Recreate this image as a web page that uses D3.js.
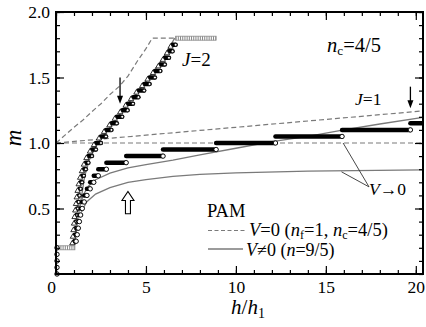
<!DOCTYPE html>
<html>
<head>
<meta charset="utf-8">
<script src="https://cdn.jsdelivr.net/npm/d3@7"></script>
<style>
body { margin: 0; background: #fff; }
svg text { font-family: 'Liberation Serif', 'Times New Roman', serif; fill: #000; }
</style>
</head>
<body>
<div id="chart"></div>
<script>
// values
var zeroFieldM = [0, 0.05, 0.10, 0.15, 0.20]

var j1StepM = [0.25, 0.30, 0.35, 0.40, 0.45, 0.50, 0.55, 0.60, 0.65, 0.70,
	0.75, 0.80, 0.85, 0.90, 0.95, 1.00, 1.05, 1.10, 1.15]
var j1StepH = [1.05, 1.12, 1.18, 1.24, 1.30, 1.37, 1.46, 1.57, 1.72, 1.90,
	2.10, 2.35, 2.80, 3.90, 5.95, 8.90, 12.20, 15.90, 19.70, 20.60]

var j2StepM = [0.25, 0.30, 0.35, 0.40, 0.45, 0.50, 0.55, 0.60, 0.65, 0.70,
	0.75, 0.80, 0.85, 0.90, 0.95, 1.00, 1.05, 1.10, 1.15, 1.20,
	1.25, 1.30, 1.35, 1.40, 1.45, 1.50, 1.55, 1.60, 1.65, 1.70, 1.75]
var j2StepH = [1.02, 1.05, 1.08, 1.11, 1.14, 1.18, 1.22, 1.26, 1.31, 1.37,
	1.45, 1.55, 1.66, 1.80, 2.00, 2.22, 2.50, 2.78, 3.08, 3.38,
	3.68, 3.98, 4.28, 4.58, 4.90, 5.20, 5.50, 5.80, 6.05, 6.28, 6.48, 6.65]

var plateauM = [0.20, 1.80]
var plateauH0 = [0, 6.65]
var plateauH1 = [1.05, 8.90]

// PAM, V=0 (dashed)
var v0J2 = [[0, 1.0], [0.5, 1.06], [1.0, 1.12], [1.5, 1.175], [2.0, 1.24], [2.5, 1.30],
	[3.0, 1.37], [3.5, 1.43], [4.0, 1.51], [4.5, 1.62], [5.0, 1.72], [5.35, 1.80], [6.6, 1.80]]
var v0J1 = [[0, 1.0], [5, 1.06], [10, 1.12], [15, 1.18], [20.4, 1.245]]
var v0Flat = [[0, 1.0], [20.4, 1.0]]

// PAM, V!=0 (solid)
var vJ2 = [[1.05, 0.22], [1.15, 0.35], [1.3, 0.5], [1.45, 0.62], [1.6, 0.75], [1.85, 0.87],
	[2.2, 0.97], [2.6, 1.05], [3.0, 1.12], [3.5, 1.21], [4.0, 1.30], [4.5, 1.38],
	[5.0, 1.47], [5.5, 1.56], [6.0, 1.66], [6.3, 1.73], [6.6, 1.80]]
var vJ1 = [[1.35, 0.52], [1.5, 0.6], [1.8, 0.67], [2.2, 0.72], [3.0, 0.77], [4.0, 0.81],
	[5.0, 0.835], [6.5, 0.87], [8.0, 0.91], [10.0, 0.96], [12.0, 1.01], [14.0, 1.05],
	[16.0, 1.10], [18.0, 1.145], [20.4, 1.195]]
var vLow = [[1.4, 0.47], [1.7, 0.55], [2.2, 0.61], [3.0, 0.66], [4.0, 0.70], [5.0, 0.72],
	[6.5, 0.745], [8.0, 0.76], [10.0, 0.772], [14.0, 0.785], [20.4, 0.795]]

var xMajor = [0, 5, 10, 15, 20],
	xMinor = d3.range(0, 21, 1),
	yMajor = [0.5, 1.0, 1.5, 2.0],
	yMinor = d3.range(0, 2.01, 0.1)

var W = 426, H = 327,
	pLeft = 56, pRight = 423, pTop = 12, pBottom = 274

var x = d3.scaleLinear().domain([0, 20.4]).range([pLeft, pRight]),
	y = d3.scaleLinear().domain([0, 2]).range([pBottom, pTop])

var svg = d3.select('#chart').append('svg')
	.attr('width', W)
	.attr('height', H)
	.attr('font-family', "'Liberation Serif', serif")

var defs = svg.append('defs')
defs.append('clipPath').attr('id', 'plot')
	.append('rect').attr('x', pLeft).attr('y', pTop).attr('width', pRight - pLeft).attr('height', pBottom - pTop)

var line = d3.line().x(function(d) { return x(d[0]) }).y(function(d) { return y(d[1]) })

var curves = svg.append('g').attr('clip-path', 'url(#plot)')
var grey = '#7a7a7a'

;[v0J2, v0J1, v0Flat].forEach(function(s) {
	curves.append('path').attr('d', line(s))
		.attr('fill', 'none').attr('stroke', grey).attr('stroke-width', 1.2)
		.attr('stroke-dasharray', '5,3')
})
;[vJ2, vJ1, vLow].forEach(function(s) {
	curves.append('path').attr('d', line(s))
		.attr('fill', 'none').attr('stroke', grey).attr('stroke-width', 1.3)
})

// saturated / zero-field plateaus, drawn as dense marker bands
var marks = svg.append('g').attr('clip-path', 'url(#plot)')
plateauM.forEach(function(m, i) {
	var g = marks.append('g')
	g.append('rect')
		.attr('x', x(plateauH0[i])).attr('y', y(m) - 2)
		.attr('width', x(plateauH1[i]) - x(plateauH0[i])).attr('height', 4)
		.attr('fill', '#fff').attr('stroke', '#888').attr('stroke-width', 0.8)
	g.append('line')
		.attr('x1', x(plateauH0[i])).attr('x2', x(plateauH1[i]))
		.attr('y1', y(m)).attr('y2', y(m))
		.attr('stroke', '#888').attr('stroke-width', 4).attr('stroke-dasharray', '1,1.2')
})

function staircase(stepM, stepH, tri, r) {
	var g = marks.append('g')
	stepM.forEach(function(m, i) {
		g.append('line')
			.attr('x1', x(stepH[i])).attr('x2', x(stepH[i + 1]))
			.attr('y1', y(m)).attr('y2', y(m))
			.attr('stroke', '#000').attr('stroke-width', 4.5).attr('stroke-linecap', 'round')
	})
	if (tri) {
		g.selectAll('path.tri').data(stepM).enter().append('path')
			.attr('class', 'tri')
			.attr('d', d3.symbol(d3.symbolTriangle, 12))
			.attr('transform', function(m, i) { return 'translate(' + (x(stepH[i]) - 2) + ',' + (y(m) + 2) + ')' })
			.attr('fill', '#fff').attr('stroke', '#000').attr('stroke-width', 0.8)
	}
	g.selectAll('circle').data(stepM).enter().append('circle')
		.attr('cx', function(m, i) { return x(stepH[i + 1]) })
		.attr('cy', function(m) { return y(m) })
		.attr('r', r)
		.attr('fill', '#fff').attr('stroke', '#000').attr('stroke-width', 0.9)
}
staircase(j2StepM, j2StepH, true, 1.5)
staircase(j1StepM, j1StepH, false, 2.2)

svg.append('g').selectAll('circle').data(zeroFieldM).enter().append('circle')
	.attr('cx', x(0) + 1)
	.attr('cy', function(m) { return y(m) })
	.attr('r', 2.2)
	.attr('fill', '#fff').attr('stroke', '#000').attr('stroke-width', 1)

// axes, ticks pointing inward
function ticks(axis, size, vals, labels) {
	return axis.tickValues(vals).tickSizeInner(-size).tickSizeOuter(0)
		.tickPadding(7).tickFormat(labels ? null : '')
}
var ax = svg.append('g')
ax.append('g').attr('transform', 'translate(0,' + pBottom + ')').call(ticks(d3.axisBottom(x), 4, xMinor, false))
ax.append('g').attr('transform', 'translate(0,' + pBottom + ')').call(ticks(d3.axisBottom(x), 8, xMajor, true).tickFormat(d3.format('d')))
ax.append('g').attr('transform', 'translate(0,' + pTop + ')').call(ticks(d3.axisTop(x), 4, xMinor, false))
ax.append('g').attr('transform', 'translate(0,' + pTop + ')').call(ticks(d3.axisTop(x), 8, xMajor, false))
ax.append('g').attr('transform', 'translate(' + pLeft + ',0)').call(ticks(d3.axisLeft(y), 4, yMinor, false))
ax.append('g').attr('transform', 'translate(' + pLeft + ',0)').call(ticks(d3.axisLeft(y), 8, yMajor, true).tickFormat(d3.format('.1f')).tickPadding(6))
ax.append('g').attr('transform', 'translate(' + pRight + ',0)').call(ticks(d3.axisRight(y), 4, yMinor, false))
ax.append('g').attr('transform', 'translate(' + pRight + ',0)').call(ticks(d3.axisRight(y), 8, yMajor, false))
ax.selectAll('.domain').remove()
ax.selectAll('g').attr('font-family', null).attr('font-size', null)
ax.selectAll('line').attr('stroke', '#000').attr('stroke-width', 1.2)
ax.selectAll('text').attr('font-size', 17.5).attr('fill', '#000')
ax.selectAll('text').filter(function(d) { return d === 0 }).attr('dx', -5)

svg.append('rect')
	.attr('x', pLeft).attr('y', pTop).attr('width', pRight - pLeft).attr('height', pBottom - pTop)
	.attr('fill', 'none').attr('stroke', '#000').attr('stroke-width', 2)

// axis titles
svg.append('text')
	.attr('transform', 'translate(21,138) rotate(-90)')
	.attr('text-anchor', 'middle').attr('font-size', 23).attr('font-style', 'italic')
	.text('m')
var xt = svg.append('text').attr('x', 248).attr('y', 314).attr('text-anchor', 'middle').attr('font-size', 21)
xt.append('tspan').attr('font-style', 'italic').text('h')
xt.append('tspan').text('/')
xt.append('tspan').attr('font-style', 'italic').text('h')
xt.append('tspan').attr('font-size', 14).attr('dy', 4).text('1')

// arrows
function downArrow(h, m0, m1) {
	svg.append('line').attr('x1', x(h)).attr('x2', x(h)).attr('y1', y(m0)).attr('y2', y(m1) - 6)
		.attr('stroke', '#000').attr('stroke-width', 1.3)
	svg.append('path')
		.attr('d', 'M' + (x(h) - 3) + ',' + (y(m1) - 8) + 'L' + (x(h) + 3) + ',' + (y(m1) - 8) + 'L' + x(h) + ',' + y(m1) + 'Z')
		.attr('fill', '#000')
}
downArrow(3.56, 1.50, 1.30)
downArrow(19.7, 1.43, 1.265)

var ux = x(4.0), uy0 = y(0.46), uy1 = y(0.63)
svg.append('path')
	.attr('d', 'M' + (ux - 2.5) + ',' + uy0 + 'V' + (uy1 + 9) + 'H' + (ux - 6) + 'L' + ux + ',' + uy1 +
		'L' + (ux + 6) + ',' + (uy1 + 9) + 'H' + (ux + 2.5) + 'V' + uy0 + 'Z')
	.attr('fill', '#fff').attr('stroke', '#000').attr('stroke-width', 1.1)

// V -> 0 pointers
var lab = [17.4, 0.665]
;[[15.96, 1.0], [15.87, 0.78]].forEach(function(p) {
	svg.append('line')
		.attr('x1', x(p[0])).attr('y1', y(p[1])).attr('x2', x(lab[0])).attr('y2', y(lab[1]))
		.attr('stroke', '#333').attr('stroke-width', 0.9)
})

function label(xp, yp, size, parts) {
	var t = svg.append('text').attr('x', xp).attr('y', yp).attr('font-size', size)
	parts.forEach(function(p) {
		var s = t.append('tspan').text(p[0])
		if (p[1] === 'i') s.attr('font-style', 'italic')
		if (p[1] === 'sub') s.attr('font-size', size * 0.65).attr('dy', 3)
		if (p[1] === 'up') s.attr('dy', -3)
	})
	return t
}
label(182, 66, 19, [['J', 'i'], ['=2']])
label(355, 105, 17.5, [['J', 'i'], ['=1']])
label(327, 52, 20.5, [['n', 'i'], ['c', 'sub'], ['=4/5', 'up']])
label(369, 195, 17.5, [['V', 'i'], ['\u21920']])
label(207, 217, 18.5, [['PAM']])

svg.append('line').attr('x1', 208).attr('x2', 245).attr('y1', 230.5).attr('y2', 230.5)
	.attr('stroke', grey).attr('stroke-width', 1.2).attr('stroke-dasharray', '4,2.5')
svg.append('line').attr('x1', 208).attr('x2', 243).attr('y1', 249).attr('y2', 249)
	.attr('stroke', grey).attr('stroke-width', 1.3)
label(249, 235.5, 18.5, [['V', 'i'], ['=0 ('], ['n', 'i'], ['f', 'sub'], ['=1, ', 'up'], ['n', 'i'], ['c', 'sub'], ['=4/5)', 'up']])
label(246, 256, 18, [['V', 'i'], ['\u22600 ('], ['n', 'i'], ['=9/5)']])
</script>
</body>
</html>
